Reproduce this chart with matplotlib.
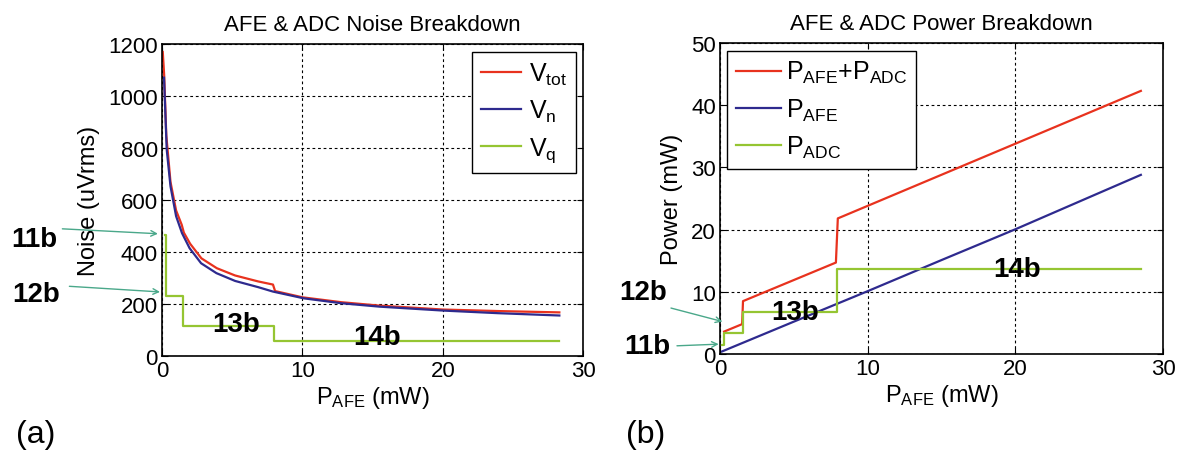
import matplotlib
matplotlib.use("Agg")
import matplotlib.pyplot as plt

# ---- data ----
# (a) noise vs AFE power
p_vn = [0.14, 0.33, 0.6, 1.0, 1.42, 1.96, 2.78, 3.87, 5.2, 6.85, 7.9, 10.1, 12.8, 15.5, 20.0, 23.9, 28.3]
v_n = [1071, 795, 653, 538, 473, 415, 357, 319, 289, 265, 248, 222, 203, 190, 175, 165, 156]

p_vtot = [0.05, 0.15, 0.3, 0.6, 1.0, 1.4, 1.55, 2.0, 2.8, 3.9, 5.2, 6.85, 7.9, 8.05, 10.0, 12.8, 15.5, 20.0, 24.0, 28.3]
v_tot = [1170, 1080, 850, 670, 560, 505, 475, 432, 376, 338, 310, 287, 275, 250, 226, 207, 194, 179, 173, 168]

p_vq = [0.24, 0.3, 1.5, 8.0, 28.3]
v_q = [465, 230, 116, 58, 58]

# (b) power breakdown
p_afe_x = [0.13, 5.0, 10.0, 15.0, 20.0, 25.0, 28.5]
p_afe = [0.4, 5.2, 10.1, 15.1, 20.05, 25.2, 28.8]

p_adc_x = [0.13, 0.3, 1.55, 7.95, 28.5]
p_adc = [1.5, 3.3, 6.8, 13.6, 13.6]

p_tot_x = [0.28, 1.5, 1.56, 7.85, 7.98, 28.5]
p_tot = [3.6, 4.8, 8.5, 14.7, 21.8, 42.3]

RED = "#e8321e"
BLUE = "#2e2a8e"
GREEN = "#95c532"
ARROW = "#4aa88a"

plt.rcParams["font.family"] = ["Liberation Sans", "DejaVu Sans"]
plt.rcParams["mathtext.fontset"] = "custom"
plt.rcParams["mathtext.rm"] = "Liberation Sans"
plt.rcParams["mathtext.default"] = "regular"

fig = plt.figure(figsize=(11.83, 4.56), dpi=100)
ax1 = fig.add_axes([0.137, 0.217, 0.356, 0.684])
ax2 = fig.add_axes([0.6086, 0.2215, 0.3745, 0.682])


def style_axes(ax):
    ax.grid(True, color="black", linestyle=(0, (2.5, 2.5)), linewidth=0.8)
    ax.tick_params(direction="in", top=True, right=True, labelsize=16, length=4, pad=3)
    for s in ax.spines.values():
        s.set_linewidth(1.2)
        s.set_color("black")


# ---- (a) noise ----
ax1.plot(p_vtot, v_tot, color=RED, lw=1.6, label=r"V$_{tot}$")
ax1.plot(p_vn, v_n, color=BLUE, lw=1.6, label=r"V$_{n}$")
ax1.plot(p_vq, v_q, color=GREEN, lw=1.6, drawstyle="steps-post", label=r"V$_{q}$")
ax1.set_xlim(0, 30)
ax1.set_ylim(0, 1200)
ax1.set_xticks([0, 10, 20, 30])
ax1.set_yticks(range(0, 1201, 200))
style_axes(ax1)
ax1.set_title("AFE & ADC Noise Breakdown", fontsize=16, pad=10)
ax1.set_xlabel(r"P$_{AFE}$ (mW)", fontsize=17, labelpad=2)
ax1.set_ylabel("Noise (uVrms)", fontsize=17, labelpad=6)
ax1.legend(loc="upper right", fontsize=18, fancybox=False, edgecolor="black",
           framealpha=1, handlelength=1.6, handletextpad=0.3, labelspacing=0.45,
           borderpad=0.35, borderaxespad=0.3)

for txt, x, y in [("13b", 5.3, 123), ("14b", 15.3, 73)]:
    ax1.text(x, y, txt, fontsize=20, fontweight="bold", ha="center", va="center")
ax1.text(-9.1, 450, "11b", fontsize=20, fontweight="bold", ha="center", va="center", clip_on=False)
ax1.text(-9.0, 238, "12b", fontsize=20, fontweight="bold", ha="center", va="center", clip_on=False)
ax1.annotate("", xy=(-0.1, 470), xytext=(-7.3, 490), annotation_clip=False,
             arrowprops=dict(arrowstyle="->", color=ARROW, lw=1.0))
ax1.annotate("", xy=(0.05, 246), xytext=(-6.8, 269), annotation_clip=False,
             arrowprops=dict(arrowstyle="->", color=ARROW, lw=1.0))

# ---- (b) power ----
ax2.plot(p_tot_x, p_tot, color=RED, lw=1.6, label=r"P$_{AFE}$+P$_{ADC}$")
ax2.plot(p_afe_x, p_afe, color=BLUE, lw=1.6, label=r"P$_{AFE}$")
ax2.plot(p_adc_x, p_adc, color=GREEN, lw=1.6, drawstyle="steps-post", label=r"P$_{ADC}$")
ax2.set_xlim(0, 30)
ax2.set_ylim(0, 50)
ax2.set_xticks([0, 10, 20, 30])
ax2.set_yticks(range(0, 51, 10))
style_axes(ax2)
ax2.set_title("AFE & ADC Power Breakdown", fontsize=16, pad=10)
ax2.set_xlabel(r"P$_{AFE}$ (mW)", fontsize=17, labelpad=2)
ax2.set_ylabel("Power (mW)", fontsize=17, labelpad=6)
ax2.legend(loc="upper left", fontsize=18, fancybox=False, edgecolor="black",
           framealpha=1, handlelength=1.8, handletextpad=0.2, labelspacing=0.45,
           borderpad=0.35, borderaxespad=0.3)

ax2.text(5.1, 6.7, "13b", fontsize=20, fontweight="bold", ha="center", va="center")
ax2.text(20.1, 13.7, "14b", fontsize=20, fontweight="bold", ha="center", va="center")
ax2.text(-5.2, 10.0, "12b", fontsize=20, fontweight="bold", ha="center", va="center", clip_on=False)
ax2.text(-4.9, 1.3, "11b", fontsize=20, fontweight="bold", ha="center", va="center", clip_on=False)
ax2.annotate("", xy=(0.35, 5.1), xytext=(-3.5, 7.5), annotation_clip=False,
             arrowprops=dict(arrowstyle="->", color=ARROW, lw=1.0))
ax2.annotate("", xy=(0.1, 1.6), xytext=(-3.1, 1.3), annotation_clip=False,
             arrowprops=dict(arrowstyle="->", color=ARROW, lw=1.0))

fig.text(0.030, 0.045, "(a)", fontsize=23, ha="center", va="center")
fig.text(0.546, 0.045, "(b)", fontsize=23, ha="center", va="center")

fig.savefig("out.png", dpi=100)
